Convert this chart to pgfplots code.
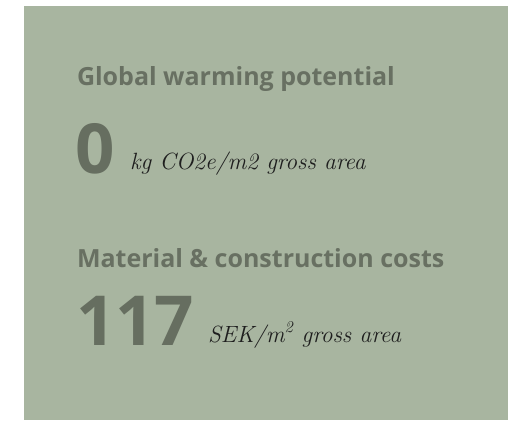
\documentclass[border=0pt]{standalone}
\usepackage{fontspec}
\setsansfont{Open Sans}
\usepackage{pgfplots}
\pgfplotsset{compat=1.18}
\definecolor{panel}{RGB}{168,181,160}
\definecolor{titlec}{RGB}{104,112,98}
\definecolor{numc}{RGB}{102,110,96}
\definecolor{unitc}{RGB}{30,30,30}
\tikzset{lbl/.style={inner sep=0pt, outer sep=0pt, anchor=base west}}
\begin{document}
\begin{tikzpicture}[x=1pt,y=1pt]
\begin{axis}[
  width=518pt, height=420pt, scale only axis,
  xmin=0, xmax=518, ymin=0, ymax=420, y dir=reverse,
  hide axis, clip=false,
]
\addplot[draw=none, fill=white] coordinates {(0,0) (518,0) (518,420) (0,420)} -- cycle;
\addplot[draw=none, fill=panel] coordinates {(24,6) (508,6) (508,420) (24,420)} -- cycle;
\node[lbl, font=\sffamily\bfseries\fontsize{25}{30}\selectfont, text=titlec] at (axis cs:77,85) {Global warming potential};
\node[lbl, font=\sffamily\bfseries\fontsize{69}{80}\selectfont, text=numc] at (axis cs:75,173) {0};
\node[lbl, font=\itshape\fontsize{23.5}{28}\selectfont, text=unitc] at (axis cs:130,169) {kg CO2e/m2 gross area};
\node[lbl, font=\sffamily\bfseries\fontsize{25}{30}\selectfont, text=titlec] at (axis cs:77,267) {Material \& construction costs};
\node[lbl, font=\sffamily\bfseries\fontsize{69}{80}\selectfont, text=numc] at (axis cs:76,345) {117};
\node[lbl, font=\itshape\fontsize{23.5}{28}\selectfont, text=unitc] at (axis cs:208,342) {SEK/m\textsuperscript{2} gross area};
\end{axis}
\end{tikzpicture}
\end{document}
